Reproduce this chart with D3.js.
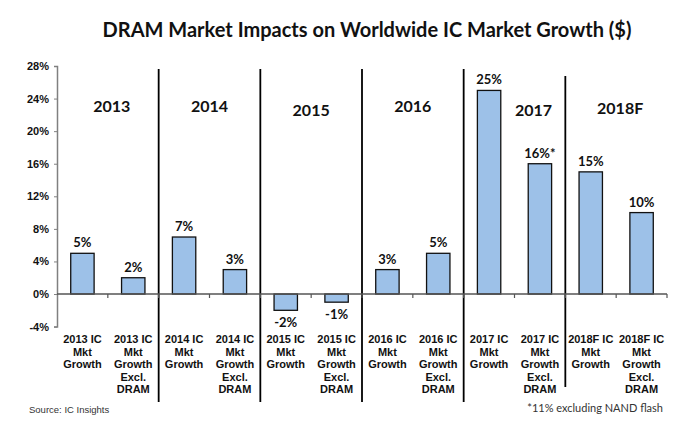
<!DOCTYPE html>
<html><head><meta charset="utf-8">
<script src="https://cdn.jsdelivr.net/npm/d3@7/dist/d3.min.js"></script>
<style>body{margin:0;background:#fff}</style>
</head><body><svg id="c" width="681" height="425"></svg>
<script>
const categories = [
  ["2013 IC","Mkt","Growth"],["2013 IC","Mkt","Growth","Excl.","DRAM"],
  ["2014 IC","Mkt","Growth"],["2014 IC","Mkt","Growth","Excl.","DRAM"],
  ["2015 IC","Mkt","Growth"],["2015 IC","Mkt","Growth","Excl.","DRAM"],
  ["2016 IC","Mkt","Growth"],["2016 IC","Mkt","Growth","Excl.","DRAM"],
  ["2017 IC","Mkt","Growth"],["2017 IC","Mkt","Growth","Excl.","DRAM"],
  ["2018F IC","Mkt","Growth"],["2018F IC","Mkt","Growth","Excl.","DRAM"]
];
const values = [5, 2, 7, 3, -2, -1, 3, 5, 25, 16, 15, 10];
const valueLabels = ["5%","2%","7%","3%","-2%","-1%","3%","5%","25%","16%*","15%","10%"];
const years = ["2013","2014","2015","2016","2017","2018F"];
const yTicks = [-4, 0, 4, 8, 12, 16, 20, 24, 28];
const title = "DRAM Market Impacts on Worldwide IC Market Growth ($)";
const source = "Source: IC Insights";
const footnote = "*11% excluding NAND flash";

const svg = d3.select("#c");
const arial = "'Liberation Sans', Arial, sans-serif";
const cal = "Lato, 'Open Sans', sans-serif";

const x = d3.scaleBand().domain(d3.range(categories.length)).range([57, 667]).padding(0);
const y = d3.scaleLinear().domain([-4, 28]).range([326.6, 66]);
const bw = x.bandwidth() * 0.46;

// title
svg.append("text").attr("x", 367).attr("y", 37).attr("text-anchor", "middle")
  .attr("font-family", cal).attr("font-weight", 700).attr("font-size", 20).attr("fill", "#111")
  .text(title);

// y axis
const yAxis = svg.append("g").attr("transform", "translate(57,0)")
  .call(d3.axisLeft(y).tickValues(yTicks).tickFormat(d => d + "%").tickSize(3));
yAxis.select(".domain").attr("stroke", "#808080").attr("stroke-width", 1.5);
yAxis.selectAll(".tick line").attr("stroke", "#808080");
yAxis.selectAll("text").attr("font-family", arial).attr("font-weight", 700)
  .attr("font-size", 11).attr("fill", "#111").attr("x", -8);

// separators
const seps = d3.range(1, years.length).map(i => x(i * 2));
svg.selectAll("line.sep").data(seps).enter().append("line")
  .attr("x1", d => d).attr("x2", d => d)
  .attr("y1", (d, i) => i === 4 ? 76 : 69).attr("y2", (d, i) => i === 4 ? 387 : 402)
  .attr("stroke", "#000").attr("stroke-width", 1.8);

// bars
svg.selectAll("rect.bar").data(values).enter().append("rect")
  .attr("x", (d, i) => x(i) + (x.bandwidth() - bw) / 2)
  .attr("y", d => y(Math.max(0, d)))
  .attr("width", bw)
  .attr("height", d => Math.abs(y(d) - y(0)))
  .attr("fill", "#9DC1E8").attr("stroke", "#111").attr("stroke-width", 1.3);

// x axis at zero
svg.append("line").attr("x1", 57).attr("x2", 667).attr("y1", y(0)).attr("y2", y(0))
  .attr("stroke", "#555").attr("stroke-width", 1.5);
svg.selectAll("line.xt").data(d3.range(1, categories.length + 1)).enter().append("line")
  .attr("x1", i => x(i - 1) + x.bandwidth()).attr("x2", i => x(i - 1) + x.bandwidth())
  .attr("y1", y(0)).attr("y2", y(0) + 4).attr("stroke", "#555").attr("stroke-width", 1.2);

// value labels
svg.selectAll("text.val").data(values).enter().append("text")
  .attr("x", (d, i) => x(i) + x.bandwidth() / 2)
  .attr("y", d => d >= 0 ? y(d) - 6 : y(d) + 17)
  .attr("text-anchor", "middle")
  .attr("font-family", cal).attr("font-weight", 700).attr("font-size", 13).attr("fill", "#111")
  .text((d, i) => valueLabels[i]);

// year labels
const yearDx = [4, 0, 0, 0, 19, 4];
const yearY = [112, 112, 116, 112, 116, 114];
svg.selectAll("text.yr").data(years).enter().append("text")
  .attr("x", (d, i) => x(i * 2) + x.bandwidth() + yearDx[i])
  .attr("y", (d, i) => yearY[i])
  .attr("text-anchor", "middle")
  .attr("font-family", cal).attr("font-weight", 700).attr("font-size", 16).attr("fill", "#111")
  .text(d => d);

// category labels
const cg = svg.selectAll("text.cat").data(categories).enter().append("text")
  .attr("text-anchor", "middle")
  .attr("font-family", arial).attr("font-weight", 700).attr("font-size", 11).attr("fill", "#111");
cg.each(function(lines, i) {
  d3.select(this).selectAll("tspan").data(lines).enter().append("tspan")
    .attr("x", x(i) + x.bandwidth() / 2)
    .attr("y", (l, j) => 343 + j * 12.5)
    .text(l => l);
});

// source & footnote
svg.append("text").attr("x", 29).attr("y", 413)
  .attr("font-family", arial).attr("font-size", 9.5).attr("fill", "#333").text(source);
svg.append("text").attr("x", 663).attr("y", 412).attr("text-anchor", "end")
  .attr("font-family", cal).attr("font-size", 11).attr("fill", "#333").text(footnote);
</script></body></html>
